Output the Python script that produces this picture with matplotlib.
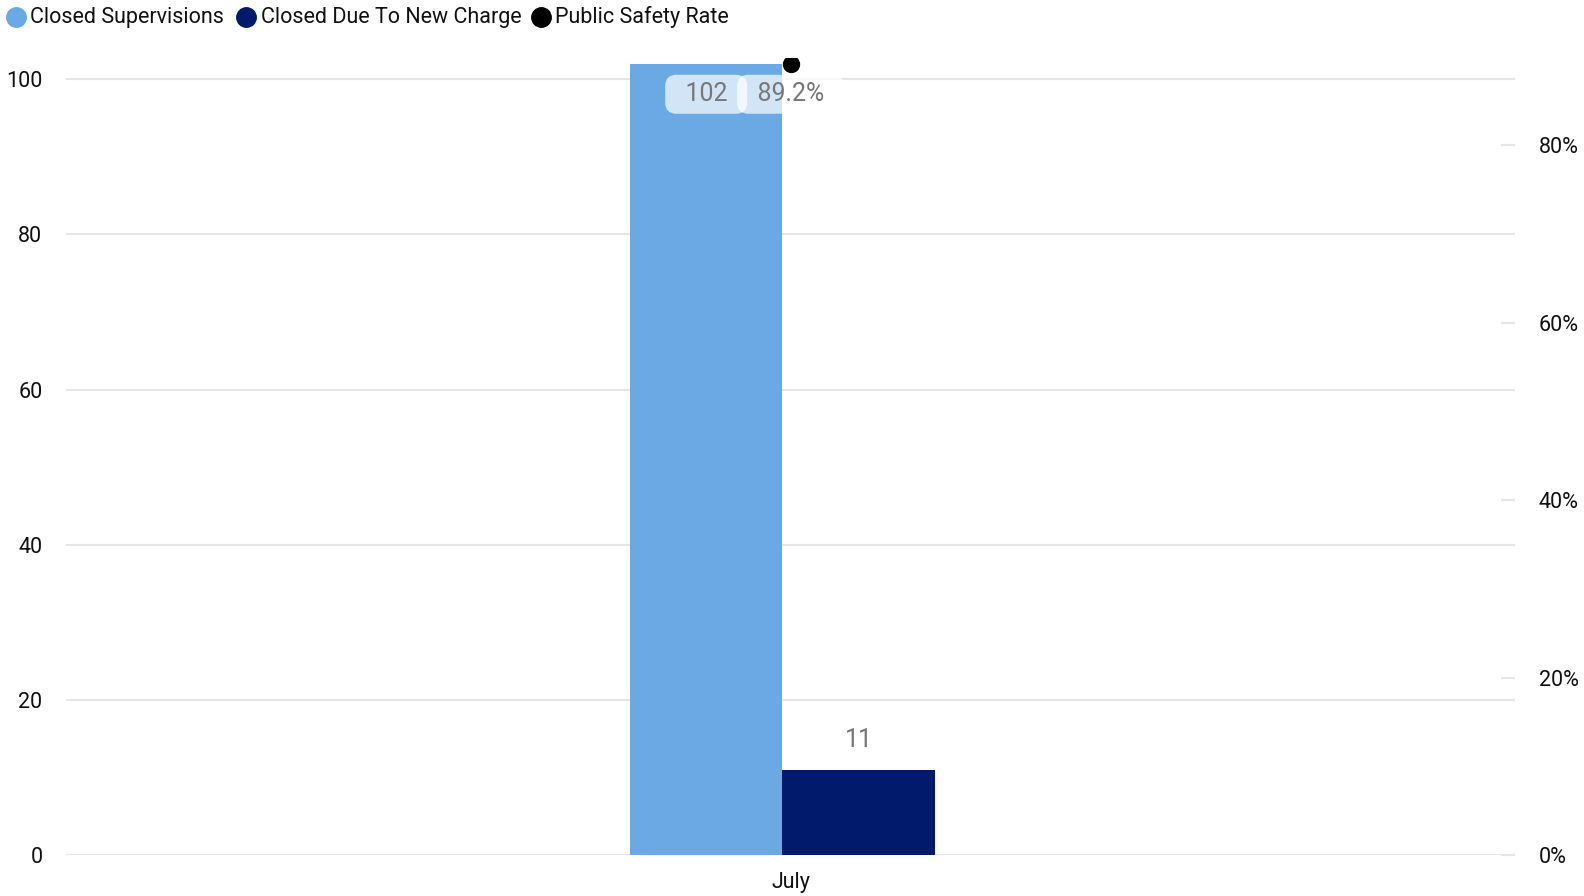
import matplotlib
matplotlib.use("Agg")
import matplotlib.pyplot as plt
from matplotlib.lines import Line2D
from matplotlib.patches import Rectangle
from matplotlib.ticker import FuncFormatter

plt.rcParams['font.family'] = ['Roboto', 'DejaVu Sans']

# ---- data ----
categories = ["July"]
closed_supervisions = [102]
closed_new_charge = [11]
public_safety_rate = [0.892]
left_ticks = [0, 20, 40, 60, 80, 100]
right_ticks = [0, 0.2, 0.4, 0.6, 0.8]
series_names = ["Closed Supervisions", "Closed Due To New Charge", "Public Safety Rate"]

c_light = "#6AA9E3"
c_dark = "#011A6B"
c_line = "#000000"
grid_c = "#E6E6E6"
lab_c = "#777777"
txt_c = "#111111"

W, H = 1584, 896
fig = plt.figure(figsize=(W / 100, H / 100), dpi=100)
left, right, bottom, top = 66 / W, 1515 / W, (H - 855) / H, (H - 63.7) / H
ax = fig.add_axes([left, bottom, right - left, top - bottom])
ax2 = ax.twinx()

x = list(range(len(categories)))
bw = 0.1052
shift = -0.0056
xl = [i - bw / 2 + shift for i in x]
xr = [i + bw / 2 + shift for i in x]
ax.bar(xl, closed_supervisions, width=bw, color=c_light, zorder=2)
ax.bar(xr, closed_new_charge, width=bw, color=c_dark, zorder=2)

ax.set_xlim(-0.5, len(categories) - 0.5)
ax.set_ylim(0, 102)
ax.set_yticks(left_ticks)
ax.grid(axis='y', color=grid_c, linewidth=1.5, zorder=0)
ax.set_axisbelow(True)
for s in ax.spines.values():
    s.set_visible(False)
for s in ax2.spines.values():
    s.set_visible(False)
ax.tick_params(axis='y', length=0, pad=17, labelsize=15.5, labelcolor=txt_c)
ax.set_xticks(x)
ax.set_xticklabels(categories)
ax.tick_params(axis='x', length=0, pad=12, labelsize=15.5, labelcolor=txt_c)

ax2.set_ylim(0, 0.892)
ax2.set_yticks(right_ticks)
ax2.yaxis.set_major_formatter(FuncFormatter(lambda v, p: f"{v*100:.0f}%"))
ax2.tick_params(axis='y', direction='in', length=10, width=1.5, color=grid_c,
                pad=17, labelsize=15.5, labelcolor=txt_c)

ln, = ax2.plot(x, public_safety_rate, marker='o', color=c_line, markersize=11.5,
               linestyle='-', zorder=5)
clip_rect = Rectangle((0, 0), 1, (H - 58) / H, transform=fig.transFigure,
                      facecolor='none', edgecolor='none')
ln.set_clip_path(clip_rect)

# labels
box = dict(boxstyle="round,pad=0.3,rounding_size=0.45", facecolor="white", alpha=0.7, edgecolor='none')
for xi, v in zip(xl, closed_supervisions):
    ax.annotate(f"  {v}  ", (xi, v), xytext=(0, -22), textcoords='offset points',
                ha='center', va='center', fontsize=18, color=lab_c, bbox=box, zorder=6)
for xi, v in zip(xr, closed_new_charge):
    ax.annotate(f"{v}", (xi, v), xytext=(0, 21), textcoords='offset points',
                ha='center', va='center', fontsize=18, color=lab_c, zorder=6)
for xi, v in zip(x, public_safety_rate):
    ax2.annotate(f"  {v*100:.1f}%  ", (xi, v), xytext=(0, -22), textcoords='offset points',
                 ha='center', va='center', fontsize=18, color=lab_c, bbox=box, zorder=6,
                 annotation_clip=False)

# legend (manual)
leg_colors = [c_light, c_dark, c_line]
mx = [16.2, 245.5, 540.5]
tx = [30.3, 260.6, 554.6]
ly = 1 - 17.2 / H
for name, col, m, t in zip(series_names, leg_colors, mx, tx):
    fig.add_artist(Line2D([m / W], [ly], marker='o', markersize=14, color=col,
                          linestyle='none', transform=fig.transFigure))
    fig.text(t / W, ly, name, ha='left', va='center', fontsize=15.5, color=txt_c)

fig.savefig("out.png", dpi=100)
